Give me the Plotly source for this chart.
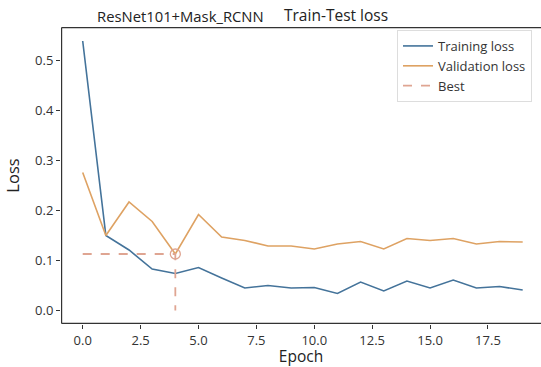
import plotly.graph_objects as go

epochs = list(range(20))
training_loss = [0.539, 0.150, 0.121, 0.083, 0.074, 0.086, 0.065, 0.045, 0.050, 0.045,
                 0.046, 0.034, 0.057, 0.039, 0.059, 0.045, 0.061, 0.045, 0.048, 0.041]
validation_loss = [0.276, 0.150, 0.217, 0.178, 0.113, 0.192, 0.147, 0.140, 0.129, 0.129,
                   0.123, 0.133, 0.138, 0.123, 0.144, 0.140, 0.144, 0.133, 0.138, 0.137]
best_epoch = 4
best_loss = 0.113
x_ticks = [0, 2.5, 5, 7.5, 10, 12.5, 15, 17.5]
x_tick_labels = ["0.0", "2.5", "5.0", "7.5", "10.0", "12.5", "15.0", "17.5"]
y_ticks = [0.0, 0.1, 0.2, 0.3, 0.4, 0.5]
y_tick_labels = ["0.0", "0.1", "0.2", "0.3", "0.4", "0.5"]
title_left = "ResNet101+Mask_RCNN"
title_right = "Train-Test loss"

C_TRAIN = "#44739a"
C_VAL = "#dea263"
C_BEST = "#dfa592"
C_AX = "#333333"
FONT = "Open Sans"

W, H = 541, 367
ML, MR, MT, MB = 61, 0, 27, 43
PW, PH = W - ML - MR, H - MT - MB
XR = [-0.937, 19.79]
YR = [-0.027, 0.567]
px_x = (XR[1] - XR[0]) / PW   # data units per pixel
px_y = (YR[1] - YR[0]) / PH
TICKLEN = 4

fig = go.Figure()
fig.add_trace(go.Scatter(x=epochs, y=training_loss, mode="lines", name="Training loss",
                         line=dict(color=C_TRAIN, width=1.6)))
fig.add_trace(go.Scatter(x=epochs, y=validation_loss, mode="lines", name="Validation loss",
                         line=dict(color=C_VAL, width=1.6)))
fig.add_trace(go.Scatter(x=[0, best_epoch, best_epoch], y=[best_loss, best_loss, 0],
                         mode="lines", name="Best",
                         line=dict(color=C_BEST, width=1.8, dash="dash")))
fig.add_trace(go.Scatter(x=[best_epoch], y=[best_loss], mode="markers", showlegend=False,
                         marker=dict(symbol="circle-open", size=10, color=C_BEST,
                                     line=dict(width=1.3, color=C_BEST))))

# axis frame (left, bottom, top), placed just inside the axis range limits
xl = XR[0] + px_x * 0.6
xr = XR[1]
yb = YR[0] + px_y * 0.6
yt = YR[1] - px_y * 0.6
frame_kw = dict(mode="lines", showlegend=False, hoverinfo="skip", cliponaxis=False,
                line=dict(color=C_AX, width=1.2))
fig.add_trace(go.Scatter(x=[xl, xl], y=[yb, yt], **frame_kw))
fig.add_trace(go.Scatter(x=[xl, xr], y=[yb, yb], **frame_kw))
fig.add_trace(go.Scatter(x=[xl, xr], y=[yt, yt], **frame_kw))
# tick marks
fig.add_trace(go.Scatter(x=x_ticks, y=[YR[0] - px_y * TICKLEN / 2] * len(x_ticks),
                         mode="markers", showlegend=False, hoverinfo="skip", cliponaxis=False,
                         marker=dict(symbol="line-ns-open", size=TICKLEN, color=C_AX,
                                     line=dict(color=C_AX, width=1.1))))
fig.add_trace(go.Scatter(x=[XR[0] - px_x * TICKLEN / 2] * len(y_ticks), y=y_ticks,
                         mode="markers", showlegend=False, hoverinfo="skip", cliponaxis=False,
                         marker=dict(symbol="line-ew-open", size=TICKLEN, color=C_AX,
                                     line=dict(color=C_AX, width=1.1))))

fig.update_layout(
    template="none",
    width=W, height=H,
    margin=dict(l=ML, r=MR, t=MT, b=MB, pad=0),
    paper_bgcolor="white", plot_bgcolor="white",
    font=dict(family=FONT, color="#222222"),
    showlegend=True,
    legend=dict(x=(397 - ML) / PW, y=0.99, xanchor="left", yanchor="top",
                bgcolor="rgba(255,255,255,0.9)", bordercolor="#dddddd", borderwidth=1,
                font=dict(family=FONT, size=13, color="#333333")),
    annotations=[
        dict(text=title_left, xref="paper", yref="paper", x=(95 - ML) / PW, y=1,
             xanchor="left", yanchor="bottom", yshift=-1, showarrow=False,
             font=dict(family=FONT, size=14.8, color="#222222")),
        dict(text=title_right, xref="paper", yref="paper", x=(282 - ML) / PW, y=1,
             xanchor="left", yanchor="bottom", yshift=-1, showarrow=False,
             font=dict(family=FONT, size=15.5, color="#222222")),
    ],
)
fig.update_xaxes(range=XR, tickvals=x_ticks, ticktext=x_tick_labels,
                 showgrid=False, zeroline=False, showline=False,
                 ticks="outside", ticklen=TICKLEN, tickcolor=C_AX,
                 tickfont=dict(family=FONT, size=13, color="#333333"),
                 title=dict(text="Epoch", font=dict(family=FONT, size=15.5), standoff=6))
fig.update_yaxes(range=YR, tickvals=y_ticks, ticktext=y_tick_labels,
                 showgrid=False, zeroline=False, showline=False,
                 ticks="outside", ticklen=TICKLEN, tickcolor=C_AX,
                 tickfont=dict(family=FONT, size=13, color="#333333"),
                 title=dict(text="Loss", font=dict(family=FONT, size=16.5), standoff=11))

fig.write_html("out.html", config={"displayModeBar": False},
               post_script="document.body.style.margin='0';")
